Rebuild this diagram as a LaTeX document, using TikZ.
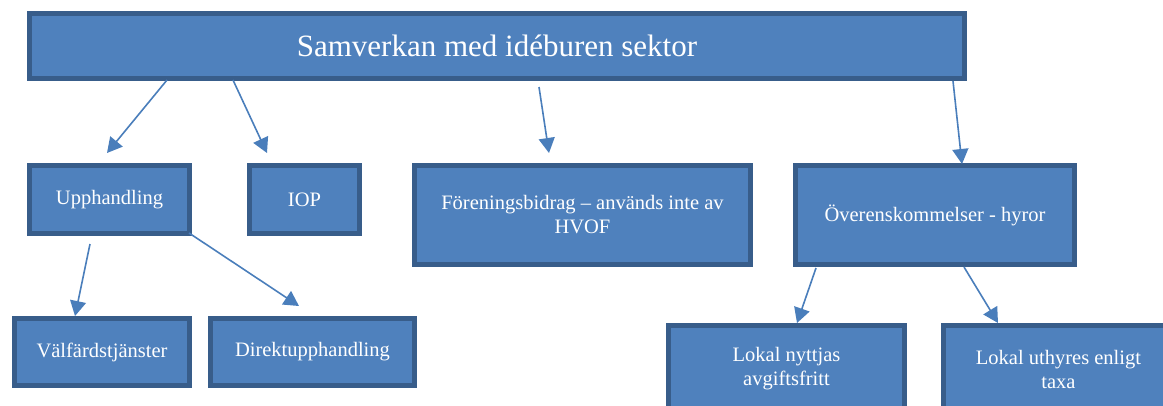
\documentclass[tikz,border=0pt]{standalone}
\usepackage{fontspec}
\setmainfont{Liberation Serif}
\usetikzlibrary{arrows.meta}
\definecolor{boxfill}{HTML}{4F81BD}
\definecolor{boxline}{HTML}{385D8A}
\definecolor{arrowcol}{HTML}{4A7EBB}
\tikzset{
  orgbox/.style={rectangle, draw=boxline, fill=boxfill, line width=5pt, text=white,
    font=\fontsize{20.5}{24}\selectfont, align=center, inner sep=0pt},
  link/.style={draw=arrowcol, line width=1.6pt, -{Triangle[length=15pt,width=16pt]}}
}
\begin{document}
\begin{tikzpicture}[x=1pt,y=-1pt]
\useasboundingbox (0,0) rectangle (1163,405);
\clip (0,0) rectangle (1163,405);
\node[orgbox, minimum width=935pt, minimum height=65pt, font=\fontsize{31}{36}\selectfont] (top) at (497,46) {Samverkan med idéburen sektor};
\node[orgbox, minimum width=160pt, minimum height=68pt] (upph) at (109.5,199.5) {Upphandling};
\node[orgbox, minimum width=110pt, minimum height=68pt] (iop) at (304.5,199.5) {IOP};
\node[orgbox, minimum width=175pt, minimum height=67pt] (valf) at (102,352) {Välfärdstjänster};
\node[orgbox, minimum width=204pt, minimum height=67pt] (direkt) at (312.5,352) {Direktupphandling};
\node[orgbox, minimum width=336pt, minimum height=99pt] (foren) at (582.5,215) {Föreningsbidrag – används inte av\\HVOF};
\node[orgbox, minimum width=279pt, minimum height=99pt] (overens) at (935,215) {Överenskommelser - hyror};
\node[orgbox, minimum width=236pt, minimum height=87pt] (nyttjas) at (786.5,369) {Lokal nyttjas\\avgiftsfritt};
\node[orgbox, minimum width=230pt, minimum height=87pt] (uthyres) at (1058.5,369) {Lokal uthyres enligt\\taxa};
% connector end points (arrows stop short of the boxes)
\coordinate (a1s) at (167,80);  \coordinate (a1e) at (107,153);
\coordinate (a2s) at (233,80);  \coordinate (a2e) at (267,153);
\coordinate (a3s) at (539,87);  \coordinate (a3e) at (549,153);
\coordinate (a4s) at (953,81);  \coordinate (a4e) at (962,164);
\coordinate (a5s) at (90,244);  \coordinate (a5e) at (75,316);
\coordinate (a6s) at (189,233); \coordinate (a6e) at (299,306);
\coordinate (a7s) at (816,268); \coordinate (a7e) at (797,323);
\coordinate (a8s) at (964,267); \coordinate (a8e) at (998,323);
\draw[link] (a1s) -- (a1e);
\draw[link] (a2s) -- (a2e);
\draw[link] (a3s) -- (a3e);
\draw[link] (a4s) -- (a4e);
\draw[link] (a5s) -- (a5e);
\draw[link] (a6s) -- (a6e);
\draw[link] (a7s) -- (a7e);
\draw[link] (a8s) -- (a8e);
\end{tikzpicture}
\end{document}
